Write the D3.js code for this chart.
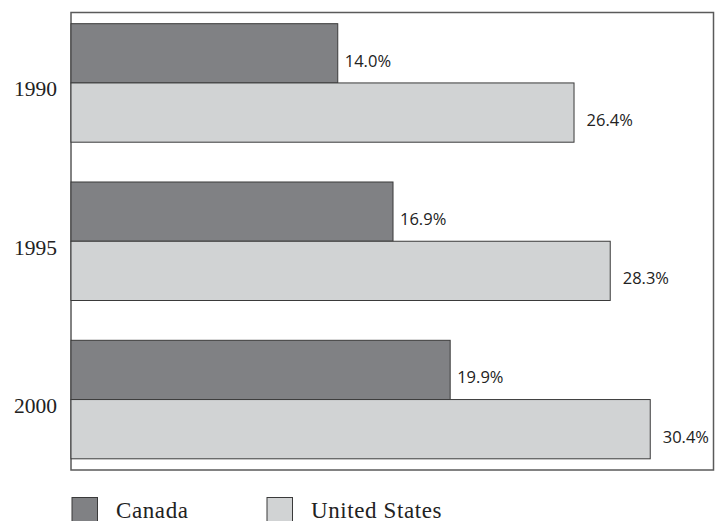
<!DOCTYPE html>
<html>
<head>
<meta charset="utf-8">
<script src="https://cdn.jsdelivr.net/npm/d3@7"></script>
<style>
  html, body { margin: 0; padding: 0; background: #fff; }
  svg { display: block; }
</style>
</head>
<body>
<svg id="chart" width="715" height="521"></svg>
<script>
const years = ["1990", "1995", "2000"];
const seriesNames = ["Canada", "United States"];
const canadaValues = [14.0, 16.9, 19.9];
const usValues = [26.4, 28.3, 30.4];
const valueLabels = [["14.0%", "16.9%", "19.9%"], ["26.4%", "28.3%", "30.4%"]];

const colors = ["#808184", "#d1d3d4"];
const labelOffsets = [7, 12.5];

const svg = d3.select("#chart");
const frame = { left: 71, right: 713.5, top: 12.5, bottom: 470 };

const x = d3.scaleLinear().domain([0, 33.72]).range([frame.left, frame.right]);
const y = d3.scaleBand().domain(years).range([frame.top, frame.bottom])
  .paddingInner(0.2514).paddingOuter(0.0707);
const ySub = d3.scaleBand().domain(seriesNames).range([0, y.bandwidth()]);

const seriesValues = [canadaValues, usValues];

// frame
svg.append("rect")
  .attr("x", frame.left).attr("y", frame.top)
  .attr("width", frame.right - frame.left).attr("height", frame.bottom - frame.top)
  .attr("fill", "none").attr("stroke", "#5a5a5a").attr("stroke-width", 1.5);

const groups = svg.selectAll("g.year").data(years).enter().append("g")
  .attr("class", "year")
  .attr("transform", d => `translate(0,${y(d)})`);

seriesNames.forEach((s, si) => {
  groups.append("rect")
    .attr("x", x(0))
    .attr("y", ySub(s))
    .attr("width", (d, i) => x(seriesValues[si][i]) - x(0))
    .attr("height", ySub.bandwidth())
    .attr("fill", colors[si])
    .attr("stroke", "#3a3a3a")
    .attr("stroke-width", 1);

  groups.append("text")
    .attr("x", (d, i) => x(seriesValues[si][i]) + labelOffsets[si])
    .attr("y", ySub(s) + ySub.bandwidth() / 2 + 13.5)
    .attr("font-family", "'Open Sans', sans-serif")
    .attr("font-size", 16.5)
    .attr("fill", "#222")
    .text((d, i) => valueLabels[si][i]);
});

// year labels (category axis)
const yAxis = d3.axisLeft(y).tickSize(0).tickPadding(14);
const axisG = svg.append("g").attr("transform", `translate(${frame.left},0)`).call(yAxis);
axisG.select(".domain").remove();
axisG.selectAll("text")
  .attr("font-family", "'Liberation Serif', 'Times New Roman', serif")
  .attr("font-size", 21.5)
  .attr("fill", "#222")
  .attr("dy", 13.5)
  .attr("y", 0);

// legend
const legendX = [72, 267];
const legend = svg.selectAll("g.legend").data(seriesNames).enter().append("g")
  .attr("class", "legend")
  .attr("transform", (d, i) => `translate(${legendX[i]},497.5)`);
legend.append("rect")
  .attr("width", 25.5).attr("height", 26)
  .attr("fill", (d, i) => colors[i])
  .attr("stroke", "#3a3a3a").attr("stroke-width", 1);
legend.append("text")
  .attr("x", 44).attr("y", 20)
  .attr("font-family", "'Liberation Serif', 'Times New Roman', serif")
  .attr("font-size", 23)
  .attr("letter-spacing", 0.6)
  .attr("fill", "#222")
  .text(d => d);
</script>
</body>
</html>
